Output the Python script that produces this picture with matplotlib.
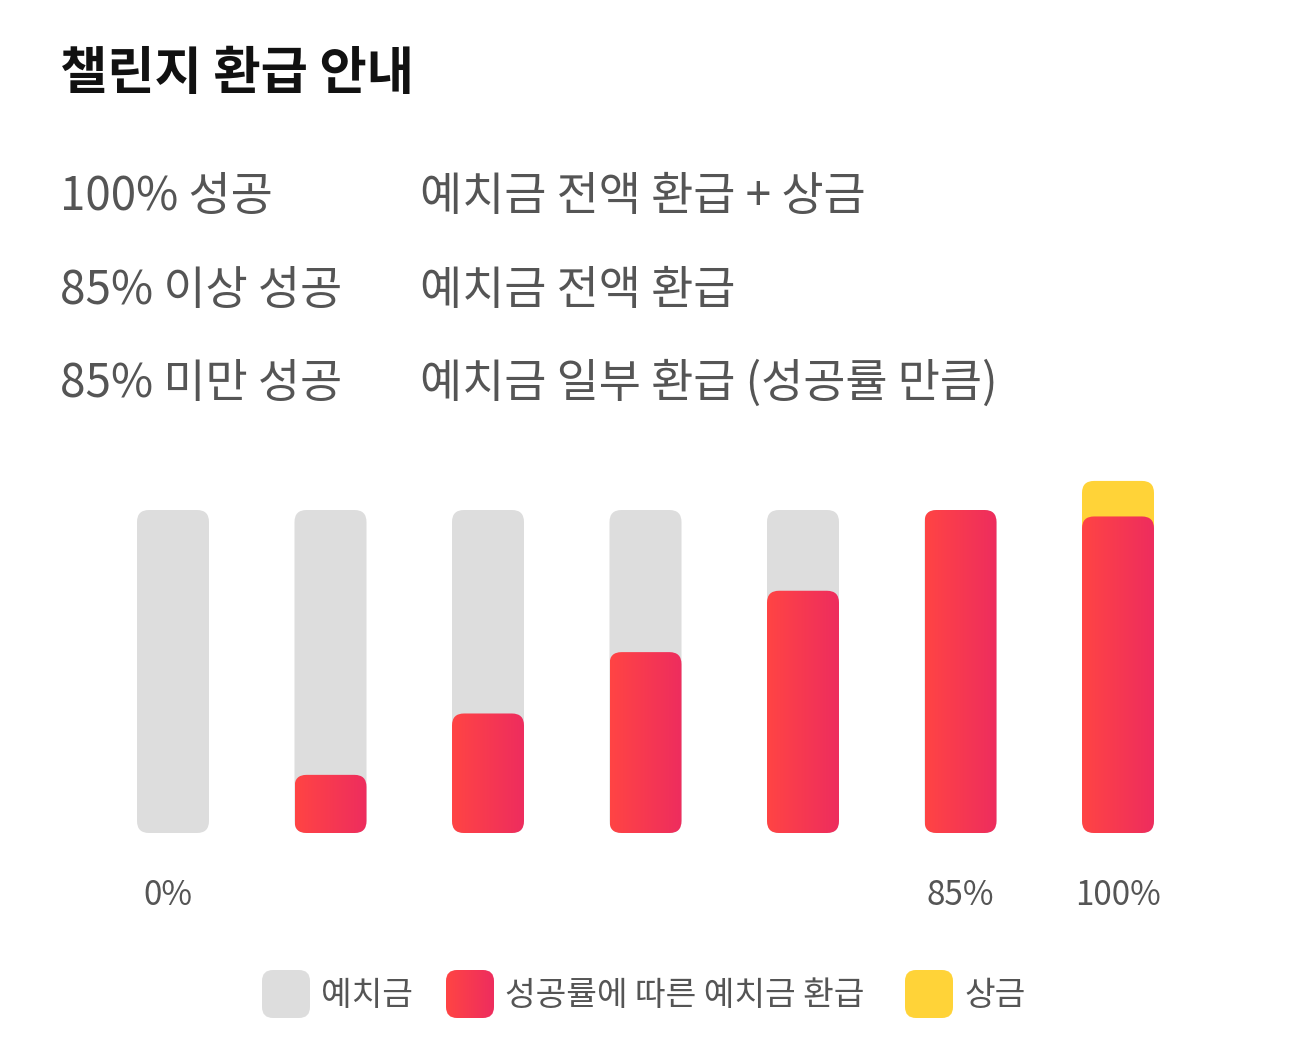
import numpy as np
import matplotlib
matplotlib.use("Agg")
import matplotlib.pyplot as plt
from matplotlib.patches import FancyBboxPatch
from matplotlib.colors import LinearSegmentedColormap

plt.rcParams['font.family'] = ['Noto Sans CJK KR', 'DejaVu Sans']

# data
title = "챌린지 환급 안내"
rule_left = ["100% 성공", "85% 이상 성공", "85% 미만 성공"]
rule_right = ["예치금 전액 환급 + 상금", "예치금 전액 환급", "예치금 일부 환급 (성공률 만큼)"]
deposit = [100, 100, 100, 100, 100, 100, 100]
refund = [0, 18, 37, 56, 75, 100, 98]
prize = [0, 0, 0, 0, 0, 0, 11]
tick_labels = ["0%", "", "", "", "", "85%", "100%"]
legend_labels = ["예치금", "성공률에 따른 예치금 환급", "상금"]

GRAY = "#dddddd"
YELLOW = "#ffd338"
red_cmap = LinearSegmentedColormap.from_list("red", ["#ff4444", "#ee2d5e"])
TXT = "#555555"

W, H = 1290, 1045
fig = plt.figure(figsize=(W / 100, H / 100), dpi=100)

def fx(px):
    return px / W

def fy(py):
    return 1 - py / H

# header text
fig.text(fx(60), fy(73), title, fontsize=37, fontweight="bold", color="#111111", va="center")
for i, (a, b) in enumerate(zip(rule_left, rule_right)):
    y = 197 + i * 93.5
    fig.text(fx(60), fy(y), a, fontsize=33, color=TXT, va="center", fontweight="medium")
    fig.text(fx(420), fy(y), b, fontsize=33, color=TXT, va="center", fontweight="medium")

# bar axes: x unit = 157.5 px, y: 0 at 833px, 100 at 510px
ax = fig.add_axes([fx(94.25), fy(833), fx(1102.5), (833 - 470) / H])
ylim_top = (833 - 470) / 3.23
ax.set_xlim(-0.5, 6.5)
ax.set_ylim(0, ylim_top)
ax.axis("off")

bw = 72 / 157.5
aspect = (157.5) / 3.23
rs = 12 / 157.5

def rbar(x, y0, h, color=None, grad=False):
    p = FancyBboxPatch((x - bw / 2, y0), bw, h,
                       boxstyle=f"round,pad=0,rounding_size={rs}",
                       mutation_aspect=aspect, linewidth=0,
                       facecolor=color if color else "none")
    ax.add_patch(p)
    if grad:
        g = np.linspace(0, 1, 64).reshape(1, -1)
        im = ax.imshow(g, cmap=red_cmap, aspect="auto",
                       extent=(x - bw / 2, x + bw / 2, y0, y0 + h), zorder=2)
        im.set_clip_path(p)
    return p

for i in range(len(deposit)):
    rbar(i, 0, deposit[i], GRAY)
    if prize[i] > 0:
        rbar(i, refund[i] - 8, prize[i] + 8, YELLOW)
    if refund[i] > 0:
        rbar(i, 0, refund[i], grad=True)

ax.set_xlim(-0.5, 6.5)
ax.set_ylim(0, ylim_top)

for i, lab in enumerate(tick_labels):
    if lab:
        ax.text(i - 0.03 if lab == "0%" else i, -19.5, lab, fontsize=24, color=TXT,
                ha="center", va="center", clip_on=False, fontweight="medium")

# legend
lax = fig.add_axes([0, 0, 1, 1])
lax.set_xlim(0, W)
lax.set_ylim(H, 0)
lax.axis("off")
leg_x = [262, 446, 905]
for j, (lx, lab) in enumerate(zip(leg_x, legend_labels)):
    col = [GRAY, None, YELLOW][j]
    p = FancyBboxPatch((lx, 970), 48, 48, boxstyle="round,pad=0,rounding_size=11",
                       linewidth=0, facecolor=col if col else "none")
    lax.add_patch(p)
    if col is None:
        g = np.linspace(0, 1, 64).reshape(1, -1)
        im = lax.imshow(g, cmap=red_cmap, aspect="auto",
                        extent=(lx, lx + 48, 1018, 970))
        im.set_clip_path(p)
    lax.text(lx + 59, 996, lab, fontsize=24, color=TXT, va="center", fontweight="medium")
lax.set_xlim(0, W)
lax.set_ylim(H, 0)

fig.savefig("out.png", dpi=100, facecolor="white")
